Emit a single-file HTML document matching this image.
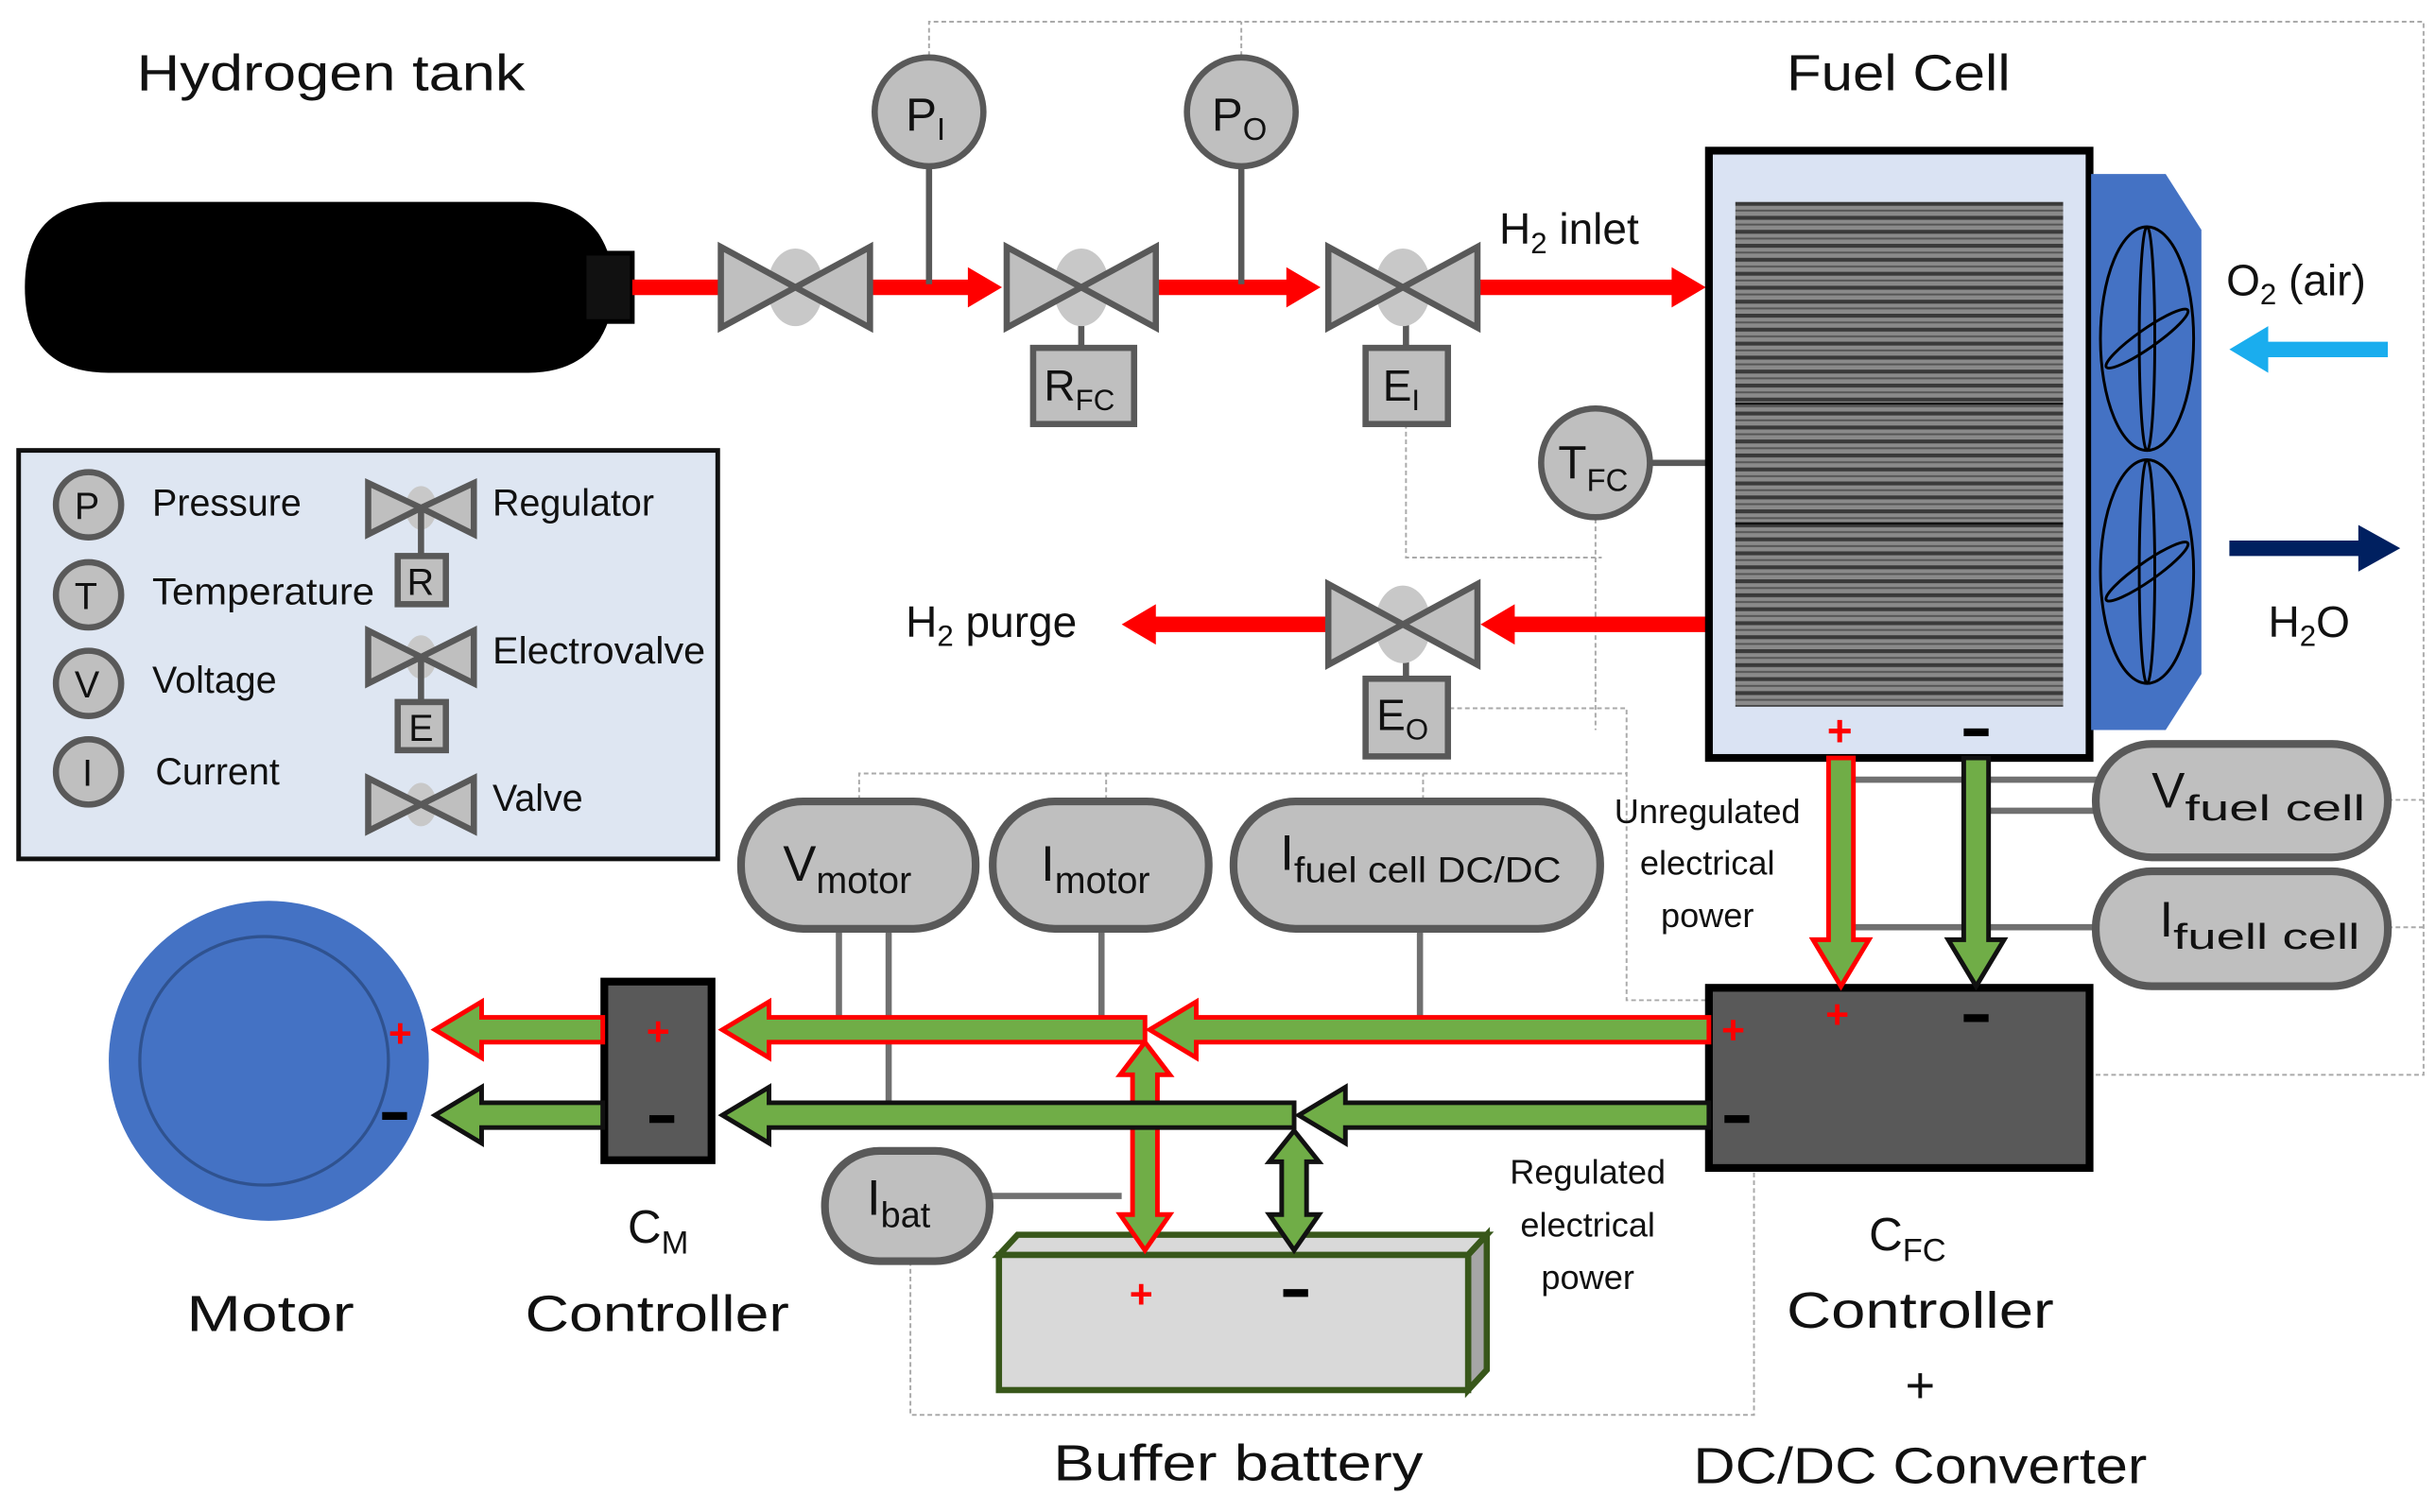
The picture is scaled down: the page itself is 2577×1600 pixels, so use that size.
<!DOCTYPE html>
<html><head><meta charset="utf-8"><style>
html,body{margin:0;padding:0;background:#fff;}
svg{display:block;}
text{font-family:"Liberation Sans",sans-serif;fill:#111;}
</style></head><body>
<svg width="2577" height="1600" viewBox="0 0 1568 973.5" preserveAspectRatio="none" xmlns="http://www.w3.org/2000/svg">
<defs>
<pattern id="st" x="0" y="130" width="10" height="9" patternUnits="userSpaceOnUse">
<rect width="10" height="9" fill="#8a8a8a"/>
<rect y="0" width="10" height="2.5" fill="#3a3a3a"/>
<rect y="5" width="10" height="1.2" fill="#555"/>
</pattern>
</defs>

<g fill="none" stroke="#aaa" stroke-width="1.2" stroke-dasharray="3,2">
<polyline points="598,36 598,14 1560,14 1560,692 1345,692"/>
<polyline points="799,36 799,14"/>
<polyline points="905,273 905,359 1031,359"/>
<polyline points="1027,334 1027,470"/>
<polyline points="933,456 1047,456 1047,644 1100,644"/>
<polyline points="553,515 553,498 1047,498"/>
<polyline points="712,515 712,498"/>
<polyline points="916,515 916,498"/>
<polyline points="1537,515 1560,515"/>
<polyline points="1537,597 1560,597"/>
<polyline points="586,812 586,911 1129,911 1129,752"/>
</g>

<text x="88" y="58" font-size="33" textLength="250" lengthAdjust="spacingAndGlyphs">Hydrogen tank</text>
<text x="1150" y="58" font-size="33" textLength="144" lengthAdjust="spacingAndGlyphs">Fuel Cell</text>

<path d="M70,130 L340,130 Q370,130 385,150 Q395,165 395,185 Q395,205 385,220 Q370,240 340,240 L70,240 Q16,240 16,185 Q16,130 70,130 Z" fill="#000"/>
<rect x="376" y="163" width="31" height="44" fill="#111" stroke="#000" stroke-width="3"/>

<g fill="#ff0000">
<rect x="407" y="180" width="60" height="10"/>
<polygon points="558,180 623,180 623,172 645,185 623,198 623,190 558,190"/>
<polygon points="742,180 828,180 828,172 850,185 828,198 828,190 742,190"/>
<polygon points="950,180 1076,180 1076,172 1098,185 1076,198 1076,190 950,190"/>
<polygon points="1100,397 975,397 975,389 953,402 975,415 975,407 1100,407"/>
<polygon points="856,397 744,397 744,389 722,402 744,415 744,407 856,407"/>
</g>

<g stroke="#595959" stroke-width="4">
<line x1="598" y1="108" x2="598" y2="183"/>
<line x1="799" y1="108" x2="799" y2="183"/>
<line x1="696" y1="185" x2="696" y2="224"/>
<line x1="905" y1="185" x2="905" y2="224"/>
<line x1="905" y1="402" x2="905" y2="437"/>
<line x1="1063" y1="298" x2="1100" y2="298"/>
</g>

<g stroke="#595959" stroke-width="4" fill="#bfbfbf">
<ellipse cx="512" cy="185" rx="18" ry="25" fill="#c8c8c8" stroke="none"/>
<polygon points="464,159 464,211 512,185"/><polygon points="560,159 560,211 512,185"/>
<ellipse cx="696" cy="185" rx="18" ry="25" fill="#c8c8c8" stroke="none"/>
<polygon points="648,159 648,211 696,185"/><polygon points="744,159 744,211 696,185"/>
<ellipse cx="903" cy="185" rx="18" ry="25" fill="#c8c8c8" stroke="none"/>
<polygon points="855,159 855,211 903,185"/><polygon points="951,159 951,211 903,185"/>
<ellipse cx="903" cy="402" rx="18" ry="25" fill="#c8c8c8" stroke="none"/>
<polygon points="855,376 855,428 903,402"/><polygon points="951,376 951,428 903,402"/>
<rect x="665" y="224" width="65" height="49"/>
<rect x="879" y="224" width="53" height="49"/>
<rect x="879" y="437" width="53" height="50"/>
<circle cx="598" cy="72" r="35"/>
<circle cx="799" cy="72" r="35"/>
<circle cx="1027" cy="298" r="35"/>
</g>
<text x="583" y="84" font-size="30">P<tspan font-size="20" dy="6">I</tspan></text>
<text x="780" y="84" font-size="30">P<tspan font-size="20" dy="6">O</tspan></text>
<text x="1003" y="308" font-size="30">T<tspan font-size="20" dy="8">FC</tspan></text>
<text x="672" y="258" font-size="28">R<tspan font-size="19" dy="6">FC</tspan></text>
<text x="890" y="258" font-size="28">E<tspan font-size="19" dy="6">I</tspan></text>
<text x="886" y="470" font-size="28">E<tspan font-size="19" dy="6">O</tspan></text>
<text x="965" y="157" font-size="28">H<tspan font-size="19" dy="6">2</tspan><tspan dy="-6"> inlet</tspan></text>
<text x="583" y="410" font-size="28">H<tspan font-size="19" dy="6">2</tspan><tspan dy="-6"> purge</tspan></text>

<rect x="1100" y="97" width="245" height="391" fill="#dae3f3" stroke="#000" stroke-width="5"/>
<rect x="1117" y="130" width="211" height="325" fill="url(#st)"/>
<line x1="1117" y1="260" x2="1328" y2="260" stroke="#111" stroke-width="1.5"/>
<line x1="1117" y1="337" x2="1328" y2="337" stroke="#111" stroke-width="1.5"/>
<text x="1176" y="480" font-size="28" font-weight="bold" style="fill:#f00">+</text>
<rect x="1264" y="469" width="16" height="5" fill="#000"/>
<polygon points="1346,112 1394,112 1417,148 1417,434 1394,470 1346,470" fill="#4472c4"/>
<g fill="none" stroke="#000" stroke-width="1.8">
<ellipse cx="1382" cy="218" rx="30" ry="72"/>
<ellipse cx="1382" cy="368" rx="30" ry="72"/>
<ellipse cx="1382" cy="218" rx="5" ry="72"/>
<ellipse cx="1382" cy="368" rx="5" ry="72"/>
<ellipse cx="1382" cy="218" rx="32" ry="6" transform="rotate(-35 1382 218)"/>
<ellipse cx="1382" cy="368" rx="32" ry="6" transform="rotate(-35 1382 368)"/>
</g>
<text x="1433" y="190" font-size="28">O<tspan font-size="19" dy="6">2</tspan><tspan dy="-6"> (air)</tspan></text>
<polygon points="1537,220 1460,220 1460,210 1435,225 1460,240 1460,230 1537,230" fill="#1aadee"/>
<polygon points="1435,348 1518,348 1518,338 1545,353 1518,368 1518,358 1435,358" fill="#002060"/>
<text x="1460" y="410" font-size="28">H<tspan font-size="19" dy="6">2</tspan><tspan dy="-6">O</tspan></text>

<rect x="12" y="290" width="450" height="263" fill="#dee6f2" stroke="#111" stroke-width="3"/>
<g stroke="#595959" stroke-width="4" fill="#bfbfbf">
<circle cx="57" cy="325" r="21"/><circle cx="57" cy="383" r="21"/><circle cx="57" cy="440" r="21"/><circle cx="57" cy="497" r="21"/>
<ellipse cx="271" cy="327" rx="10" ry="14" fill="#c8c8c8" stroke="none"/>
<polygon points="237,311 237,344 271,327"/><polygon points="305,311 305,344 271,327"/>
<line x1="271" y1="327" x2="271" y2="358"/>
<rect x="256" y="358" width="31" height="31"/>
<ellipse cx="271" cy="423" rx="10" ry="14" fill="#c8c8c8" stroke="none"/>
<polygon points="237,406 237,440 271,423"/><polygon points="305,406 305,440 271,423"/>
<line x1="271" y1="423" x2="271" y2="452"/>
<rect x="256" y="452" width="31" height="31"/>
<ellipse cx="271" cy="518" rx="10" ry="14" fill="#c8c8c8" stroke="none"/>
<polygon points="237,501 237,535 271,518"/><polygon points="305,501 305,535 271,518"/>
</g>
<g font-size="24">
<text x="48" y="334">P</text><text x="48" y="392">T</text><text x="48" y="449">V</text><text x="53" y="506">I</text>
<text x="262" y="383">R</text><text x="263" y="477">E</text>
<text x="98" y="332">Pressure</text>
<text x="98" y="389" textLength="143" lengthAdjust="spacingAndGlyphs">Temperature</text>
<text x="98" y="446">Voltage</text>
<text x="100" y="505">Current</text>
<text x="317" y="332">Regulator</text>
<text x="317" y="427" textLength="137" lengthAdjust="spacingAndGlyphs">Electrovalve</text>
<text x="317" y="522">Valve</text>
</g>

<g stroke="#707070" stroke-width="4">
<line x1="540" y1="595" x2="540" y2="663"/>
<line x1="572" y1="595" x2="572" y2="718"/>
<line x1="709" y1="595" x2="709" y2="663"/>
<line x1="914" y1="595" x2="914" y2="663"/>
<line x1="637" y1="770" x2="722" y2="770"/>
<line x1="1193" y1="502" x2="1350" y2="502"/>
<line x1="1280" y1="522" x2="1350" y2="522"/>
<line x1="1193" y1="597" x2="1350" y2="597"/>
</g>

<g fill="#bfbfbf" stroke="#595959" stroke-width="5">
<rect x="477" y="516" width="151" height="82" rx="40"/>
<rect x="639" y="516" width="139" height="82" rx="40"/>
<rect x="794" y="516" width="236" height="82" rx="40"/>
<rect x="1349" y="479" width="188" height="73" rx="36"/>
<rect x="1349" y="561" width="188" height="74" rx="36"/>
<rect x="531" y="741" width="106" height="71" rx="35"/>
</g>
<text x="504" y="567" font-size="32">V<tspan font-size="24" dy="8">motor</tspan></text>
<text x="670" y="567" font-size="32">I<tspan font-size="24" dy="8">motor</tspan></text>
<text x="824" y="560" font-size="32">I<tspan font-size="23" dy="8" textLength="172" lengthAdjust="spacingAndGlyphs">fuel cell DC/DC</tspan></text>
<text x="1385" y="520" font-size="32">V<tspan font-size="23" dy="8" textLength="116" lengthAdjust="spacingAndGlyphs">fuel cell</tspan></text>
<text x="1390" y="603" font-size="32">I<tspan font-size="23" dy="8" textLength="120" lengthAdjust="spacingAndGlyphs">fuell cell</tspan></text>
<text x="558" y="782" font-size="32">I<tspan font-size="23" dy="8">bat</tspan></text>

<circle cx="173" cy="683" r="103" fill="#4472c4"/>
<circle cx="170" cy="683" r="80" fill="none" stroke="#2f528f" stroke-width="2"/>
<text x="250" y="674" font-size="26" font-weight="bold" style="fill:#f00">+</text>
<rect x="246" y="716" width="16" height="5" fill="#000"/>

<rect x="389" y="632" width="69" height="115" fill="#595959" stroke="#000" stroke-width="5"/>
<text x="416" y="673" font-size="26" font-weight="bold" style="fill:#f00">+</text>
<rect x="418" y="718" width="16" height="5" fill="#000"/>
<rect x="1100" y="636" width="245" height="116" fill="#595959" stroke="#000" stroke-width="5"/>
<text x="1108" y="672" font-size="26" font-weight="bold" style="fill:#f00">+</text>
<text x="1175" y="662" font-size="26" font-weight="bold" style="fill:#f00">+</text>
<rect x="1264" y="653" width="16" height="5" fill="#000"/>
<rect x="1110" y="718" width="16" height="5" fill="#000"/>

<polygon points="643,808 655,795 957,795 945,808" fill="#d9d9d9" stroke="#38571a" stroke-width="4"/>
<polygon points="945,808 957,795 957,882 945,895" fill="#a6a6a6" stroke="#38571a" stroke-width="4"/>
<rect x="643" y="808" width="302" height="87" fill="#d9d9d9" stroke="#38571a" stroke-width="4"/>
<text x="727" y="842" font-size="26" font-weight="bold" style="fill:#f00">+</text>
<rect x="826" y="830" width="16" height="5" fill="#000"/>

<g fill="#70ad47" stroke="#ff0000" stroke-width="3" stroke-linejoin="miter">
<polygon points="1100,655 770,655 770,645 740,663 770,681 770,671 1100,671"/>
<polygon points="737,655 495,655 495,645 465,663 495,681 495,671 737,671"/>
<polygon points="388,655 310,655 310,645 280,663 310,681 310,671 388,671"/>
<polygon points="737,671 753,692 745,692 745,782 753,782 737,805 721,782 729,782 729,692 721,692"/>
<polygon points="1177,488 1193,488 1193,605 1203,605 1185,635 1167,605 1177,605"/>
</g>
<g fill="#70ad47" stroke="#111" stroke-width="3">
<polygon points="1100,710 866,710 866,700 836,718 866,736 866,726 1100,726"/>
<polygon points="833,710 495,710 495,700 465,718 495,736 495,726 833,726"/>
<polygon points="388,710 310,710 310,700 280,718 310,736 310,726 388,726"/>
<polygon points="833,728 849,748 841,748 841,782 849,782 833,805 817,782 825,782 825,748 817,748"/>
<polygon points="1264,488 1280,488 1280,605 1290,605 1272,635 1254,605 1264,605"/>
</g>

<g font-size="22" text-anchor="middle">
<text x="1099" y="530">Unregulated</text><text x="1099" y="563">electrical</text><text x="1099" y="597">power</text>
<text x="1022" y="762">Regulated</text><text x="1022" y="796">electrical</text><text x="1022" y="830">power</text>
</g>
<text x="404" y="800" font-size="30">C<tspan font-size="21" dy="7">M</tspan></text>
<text x="1203" y="805" font-size="30">C<tspan font-size="21" dy="7">FC</tspan></text>
<g font-size="33" text-anchor="middle">
<text x="174" y="857" textLength="108" lengthAdjust="spacingAndGlyphs">Motor</text>
<text x="423" y="857" textLength="170" lengthAdjust="spacingAndGlyphs">Controller</text>
<text x="797" y="953" textLength="238" lengthAdjust="spacingAndGlyphs">Buffer battery</text>
<text x="1236" y="855" textLength="172" lengthAdjust="spacingAndGlyphs">Controller</text>
<text x="1236" y="903">+</text>
<text x="1236" y="955" textLength="292" lengthAdjust="spacingAndGlyphs">DC/DC Converter</text>
</g>
</svg>
</body></html>
